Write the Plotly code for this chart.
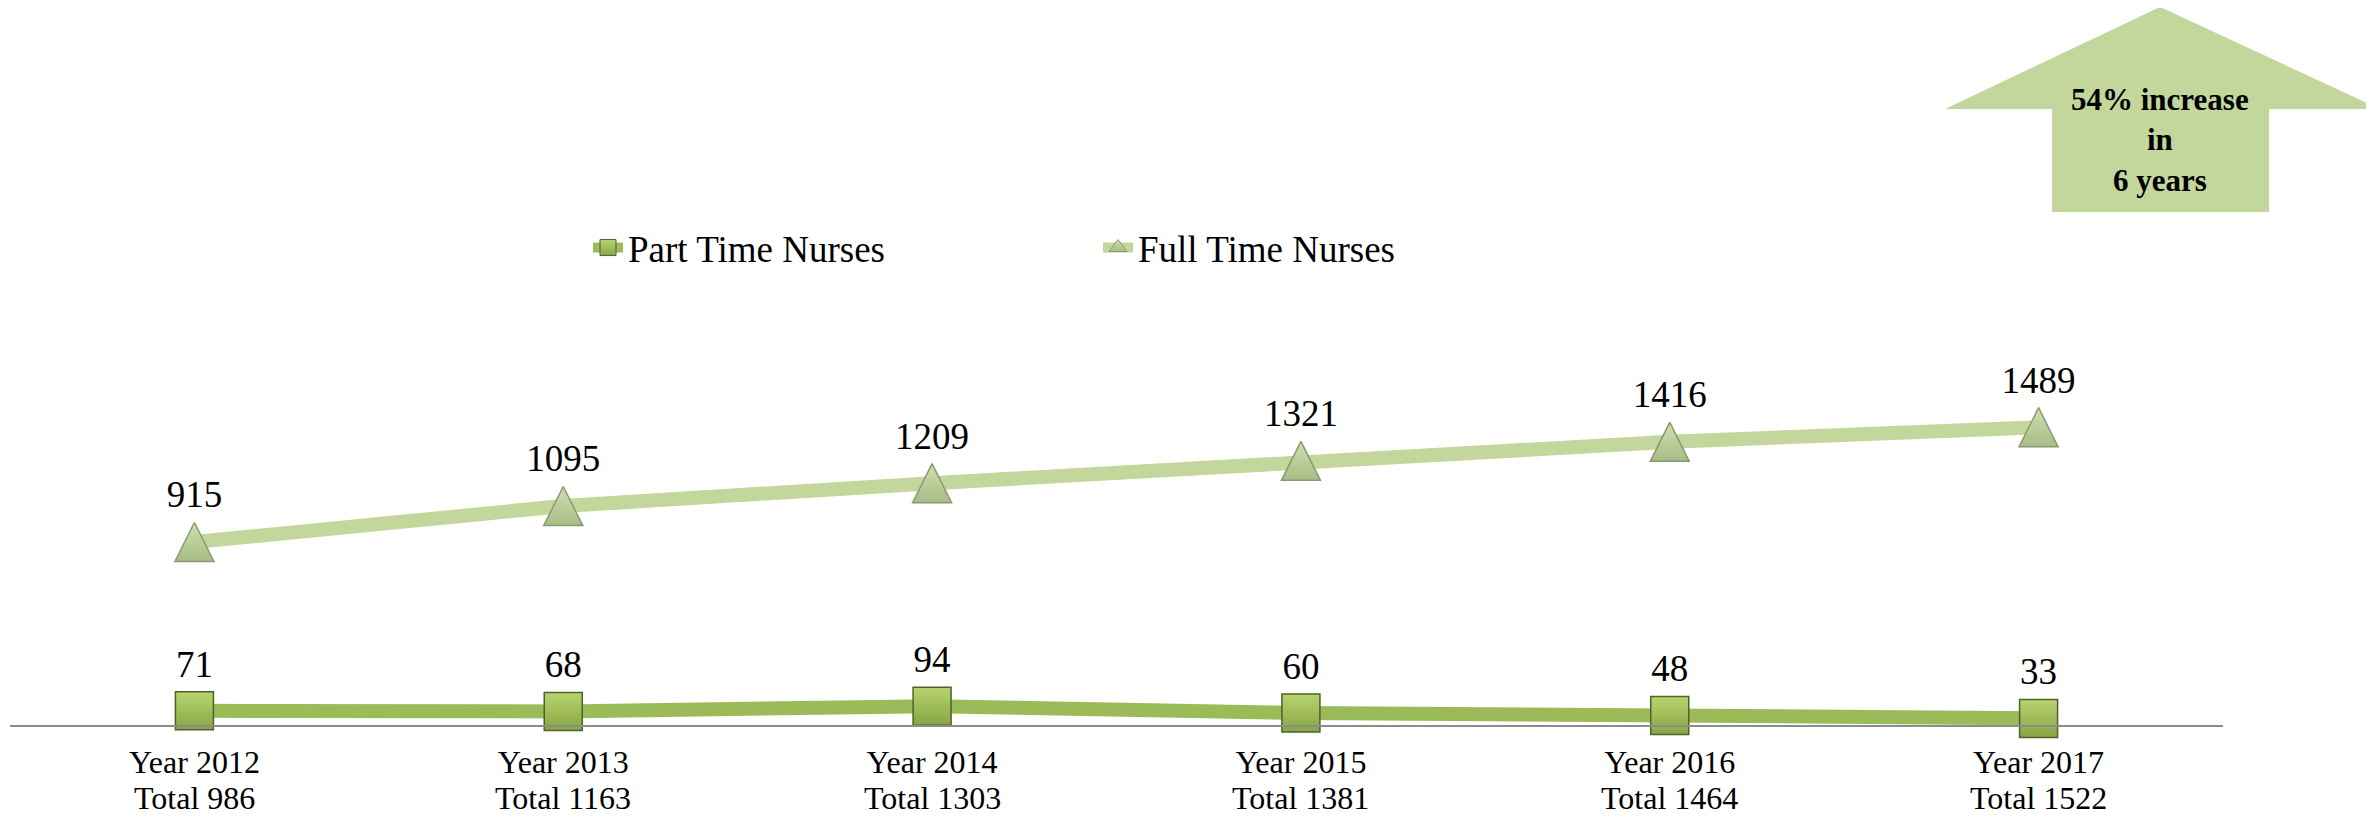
import plotly.graph_objects as go

# ---- data ----
years = ["Year 2012", "Year 2013", "Year 2014", "Year 2015", "Year 2016", "Year 2017"]
totals = [986, 1163, 1303, 1381, 1464, 1522]
part_time = [71, 68, 94, 60, 48, 33]
full_time = [915, 1095, 1209, 1321, 1416, 1489]
total_labels = [f"Total {t}" for t in totals]
callout_text = "<b>54% increase<br>in<br>6 years</b>"

# page body has an 8px margin; figure is sized to fit the window
OFF = 8
W, H = 2374 - OFF, 817 - OFF
ML, MR, MT, MB = 2, 151, 317, 92
PW = W - ML - MR
PH = H - MT - MB
Y0 = H - MB


def xp(px):
    """page pixel x -> paper x"""
    return (px - OFF - ML) / PW


def yp(py):
    """page pixel y -> paper y"""
    return (Y0 - (py - OFF)) / PH


SERIF = "Liberation Serif, Times New Roman, serif"
PT_LINE = "#9BBB59"
FT_LINE = "#C3D69B"

fig = go.Figure()

fig.add_trace(go.Scatter(
    x=years, y=part_time, name="Part Time Nurses",
    mode="lines+markers+text",
    text=[str(v) for v in part_time], textposition="top center",
    textfont=dict(family=SERIF, size=37, color="#000000"),
    line=dict(color=PT_LINE, width=14),
    marker=dict(symbol="square", size=38, color="#b8d46f",
                gradient=dict(type="vertical", color="#86a544"),
                line=dict(color="#4F6228", width=1.5)),
    cliponaxis=False, showlegend=False,
))

fig.add_trace(go.Scatter(
    x=years, y=full_time, name="Full Time Nurses",
    mode="lines+markers+text",
    text=[str(v) for v in full_time], textposition="top center",
    textfont=dict(family=SERIF, size=37, color="#000000"),
    line=dict(color=FT_LINE, width=14),
    marker=dict(symbol="arrow-down", angle=180, standoff=19.5, size=39,
                color="#cfe0b0",
                gradient=dict(type="vertical", color="#a7bc86"),
                line=dict(color="#8a9a70", width=1.5)),
    cliponaxis=False, showlegend=False,
))

# legend-only entries (no data)
fig.add_trace(go.Scatter(
    x=[None], y=[None], name="Part Time Nurses", mode="lines+markers",
    line=dict(color=PT_LINE, width=14),
    marker=dict(symbol="square", size=16, color="#b8d46f",
                gradient=dict(type="vertical", color="#86a544"),
                line=dict(color="#4F6228", width=1)),
))
fig.add_trace(go.Scatter(
    x=[None], y=[None], name="Full Time Nurses", mode="lines+markers",
    line=dict(color=FT_LINE, width=14),
    marker=dict(symbol="triangle-up", size=16, color="#cfe0b0",
                gradient=dict(type="vertical", color="#a7bc86"),
                line=dict(color="#8a9a70", width=1)),
))

# second line of the category labels
for yr, lab in zip(years, total_labels):
    fig.add_annotation(x=yr, xref="x", y=yp(798), yref="paper", text=lab,
                       showarrow=False, xanchor="center", yanchor="middle",
                       font=dict(family=SERIF, size=32, color="#000000"))

# callout arrow
pts = [(2160, 7), (2380, 109), (2269, 109), (2269, 212), (2052, 212), (2052, 109), (1945, 109)]
path = "M " + " L ".join(f"{xp(a):.5f},{yp(b):.5f}" for a, b in pts) + " Z"
fig.add_shape(type="path", path=path, xref="paper", yref="paper",
              fillcolor="#C3D69B", line=dict(width=0), layer="below")
fig.add_annotation(x=xp(2160), y=yp(140), xref="paper", yref="paper",
                   text=callout_text, showarrow=False,
                   font=dict(family=SERIF, size=31, color="#000000"),
                   xanchor="center", yanchor="middle", align="center")

fig.update_layout(
    width=W, height=H,
    margin=dict(l=ML, r=MR, t=MT, b=MB, pad=0, autoexpand=False),
    paper_bgcolor="white", plot_bgcolor="white",
    font=dict(family=SERIF, color="#000000"),
    showlegend=True,
    legend=dict(orientation="h", x=xp(588), y=yp(248), xanchor="left", yanchor="middle",
                font=dict(family=SERIF, size=37, color="#000000"),
                entrywidth=465, bgcolor="rgba(0,0,0,0)"),
    xaxis=dict(type="category", categoryorder="array", categoryarray=years,
               range=[-0.5, 5.5], tickvals=years, ticktext=years,
               showline=True, linecolor="#8c8c8c", linewidth=2,
               ticks="", showgrid=False, zeroline=False, automargin=False,
               ticklabelstandoff=8,
               tickfont=dict(family=SERIF, size=32, color="#000000")),
    yaxis=dict(range=[0, 2000], visible=False, showgrid=False, zeroline=False,
               automargin=False),
)

fig.write_html("out.html")
